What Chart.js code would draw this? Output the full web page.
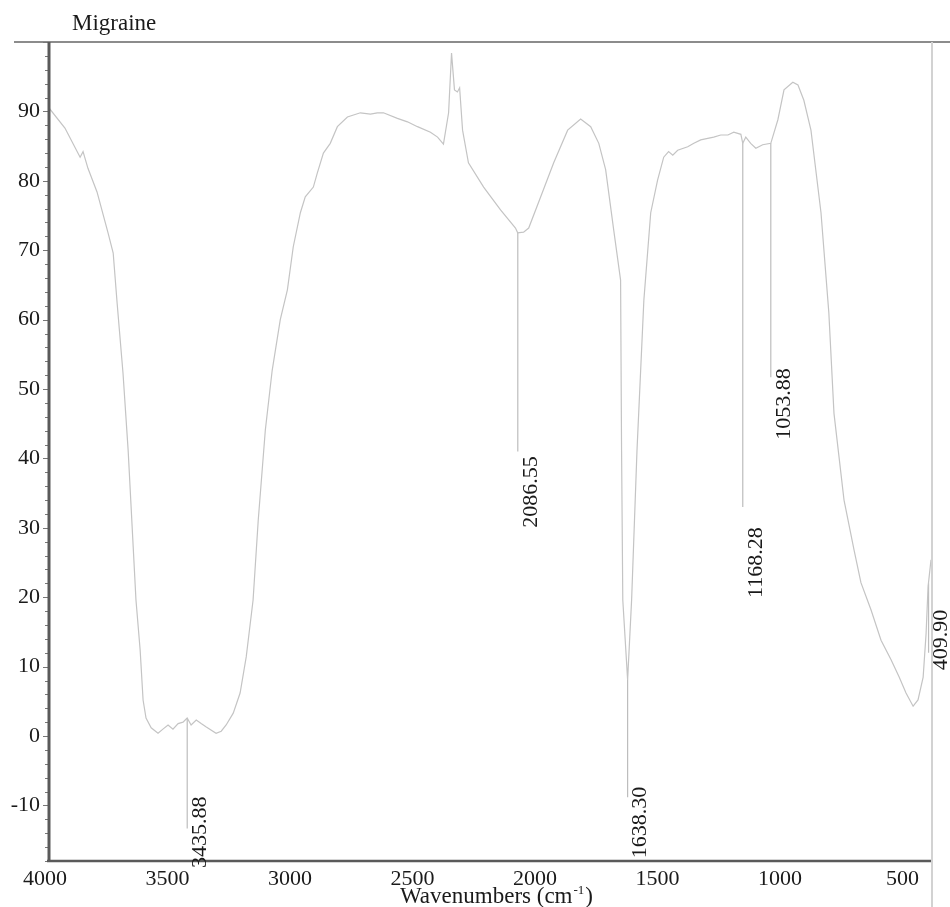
<!DOCTYPE html>
<html>
<head>
<meta charset="utf-8">
<title>Migraine</title>
<script src="https://cdn.jsdelivr.net/npm/chart.js@4.4.0/dist/chart.umd.min.js"></script>
<style>
  html, body { margin: 0; padding: 0; background: #fff; }
  #wrap { width: 950px; height: 907px; }
</style>
</head>
<body>
<div id="wrap"><canvas id="chartIR" width="950" height="907"></canvas></div>
<script>
// spectrum (wavenumber in cm-1, transmittance)
const wavenumbers = [
  4000, 3935, 3873, 3861, 3841, 3804, 3759, 3738, 3722, 3698, 3677,
  3645, 3628, 3616, 3604, 3583, 3555, 3535, 3514, 3494, 3473, 3453, 3436, 3420, 3399, 3379, 3358, 3318, 3297, 3277, 3248, 3220, 3195, 3167,
  3146, 3117, 3089, 3056, 3027, 3003, 2974, 2954, 2921, 2905, 2880, 2852, 2823, 2782, 2729, 2688, 2660, 2635, 2578, 2537, 2496, 2443, 2414, 2390,
  2369, 2357, 2345, 2333, 2324, 2312, 2288, 2226, 2157, 2096, 2087, 2063, 2042, 1993, 1940, 1883, 1830, 1789, 1756, 1728, 1695, 1667,
  1663, 1658, 1638.3, 1622, 1600, 1572, 1544, 1516, 1491, 1471, 1454, 1434, 1393, 1368, 1340, 1287, 1258, 1229, 1205, 1176,
  1168.28, 1156, 1136, 1115, 1087, 1053.88, 1025, 1000, 964, 943, 919, 890, 849, 817, 796, 755, 714, 686, 645, 604, 563, 530, 502,
  473, 453, 432, 420, 412, 400
];
const transmittance = [
  90.5, 87.6, 83.4, 84.2, 81.8, 78.4, 72.5, 69.6, 62.4, 52.3, 41.2,
  19.6, 12.4, 5.2, 2.6, 1.2, 0.4, 1.0, 1.6, 1.0, 1.8, 2.0, 2.6, 1.6, 2.3, 1.8, 1.3, 0.4, 0.7, 1.6, 3.3, 6.2, 11.4, 19.6,
  31.1, 44.1, 52.7, 60.0, 64.3, 70.5, 75.4, 77.7, 79.1, 81.1, 84.0, 85.4, 87.8, 89.2, 89.8, 89.6, 89.8, 89.8, 89.0, 88.5, 87.8, 87.0, 86.3, 85.3,
  89.8, 98.4, 93.1, 92.8, 93.4, 87.3, 82.6, 79.1, 75.8, 73.2, 72.5, 72.6, 73.2, 77.7, 82.6, 87.3, 88.9, 87.8, 85.4, 81.6, 72.9, 65.7,
  41.2, 19.6, 8.1, 19.6, 41.2, 62.8, 75.4, 80.1, 83.4, 84.2, 83.7, 84.4, 84.9, 85.4, 85.9, 86.3, 86.6, 86.6, 87.0, 86.7,
  85.4, 86.3, 85.4, 84.7, 85.2, 85.4, 88.8, 93.1, 94.2, 93.8, 91.6, 87.3, 75.4, 61.0, 46.5, 34.0, 26.8, 22.1, 18.2, 13.8, 11.0, 8.5, 6.2,
  4.3, 5.2, 8.5, 14.8, 21.5, 25.4
];

// labelled peaks: position, top of marker, bottom of marker, where the label text starts
const peakWave = [3435.88, 2086.55, 1638.30, 1168.28, 1053.88, 409.90];
const peakTop = [2.6, 72.5, 8.1, 85.4, 85.4, 22.0];
const peakEnd = [-13.3, 41.0, -8.8, 33.0, 51.7, 12.0];
const peakLabelAt = [-19.0, 30.0, -17.6, 19.9, 42.7, 9.5];

const xTicks = [4000, 3500, 3000, 2500, 2000, 1500, 1000, 500];
const yTicks = [-10, 0, 10, 20, 30, 40, 50, 60, 70, 80, 90];

const X_MIN = 400, X_MAX = 4000, Y_MIN = -18, Y_MAX = 100;
const FONT = '"Liberation Serif", "Times New Roman", serif';
const LINE_GRAY = '#c4c4c4';

const points = wavenumbers.map(function (w, i) { return { x: w, y: transmittance[i] }; });

const markerSets = peakWave.map(function (w, i) {
  return {
    data: [{ x: w, y: peakTop[i] }, { x: w, y: peakEnd[i] }],
    borderColor: '#bdbdbd',
    borderWidth: 1.2,
    pointRadius: 0,
    clip: false,
  };
});

const frame = {
  id: 'frame',
  afterDraw: function (chart) {
    const ctx = chart.ctx;
    const a = chart.chartArea;
    const xs = chart.scales.x;
    const ys = chart.scales.y;
    ctx.save();

    // top rule and right border
    ctx.strokeStyle = '#8c8c8c';
    ctx.lineWidth = 2;
    ctx.beginPath(); ctx.moveTo(14, a.top); ctx.lineTo(950, a.top); ctx.stroke();
    ctx.strokeStyle = '#d2d2d2';
    ctx.beginPath(); ctx.moveTo(a.right + 1, a.top); ctx.lineTo(a.right + 1, 907); ctx.stroke();

    // y ticks, minor every 2
    ctx.strokeStyle = '#777';
    ctx.lineWidth = 1;
    for (let v = Y_MIN; v <= Y_MAX; v += 2) {
      const py = Math.round(ys.getPixelForValue(v)) + 0.5;
      const len = v % 10 === 0 ? 6 : 4;
      ctx.beginPath(); ctx.moveTo(a.left - len, py); ctx.lineTo(a.left, py); ctx.stroke();
    }

    // axes
    ctx.strokeStyle = '#5a5a5a';
    ctx.lineWidth = 3;
    ctx.beginPath(); ctx.moveTo(a.left, a.top); ctx.lineTo(a.left, a.bottom); ctx.stroke();
    ctx.lineWidth = 2.5;
    ctx.beginPath(); ctx.moveTo(a.left - 2, a.bottom); ctx.lineTo(a.right, a.bottom); ctx.stroke();

    ctx.fillStyle = '#1a1a1a';
    ctx.font = '22px ' + FONT;
    ctx.textAlign = 'right';
    ctx.textBaseline = 'middle';
    yTicks.forEach(function (v) {
      ctx.fillText(String(v), 40, ys.getPixelForValue(v));
    });

    ctx.textAlign = 'center';
    ctx.textBaseline = 'alphabetic';
    xTicks.forEach(function (v) {
      ctx.fillText(String(v), xs.getPixelForValue(v) - 4, a.bottom + 24);
    });

    // axis title with superscript
    ctx.textAlign = 'left';
    ctx.font = '23px ' + FONT;
    const main = 'Wavenumbers (cm';
    let tx = 400;
    ctx.fillText(main, tx, 903);
    tx += ctx.measureText(main).width + 1;
    ctx.font = '13px ' + FONT;
    ctx.fillText('-1', tx, 894);
    tx += ctx.measureText('-1').width + 1;
    ctx.font = '23px ' + FONT;
    ctx.fillText(')', tx, 903);

    // title
    ctx.font = '23px ' + FONT;
    ctx.fillText('Migraine', 72, 30);

    // peak labels, rotated
    ctx.font = '22px ' + FONT;
    ctx.textBaseline = 'top';
    peakWave.forEach(function (w, i) {
      ctx.save();
      ctx.translate(xs.getPixelForValue(w) + 2, ys.getPixelForValue(peakLabelAt[i]));
      ctx.rotate(-Math.PI / 2);
      ctx.fillText(w.toFixed(2), 0, 0);
      ctx.restore();
    });

    ctx.restore();
  },
};

new Chart(document.getElementById('chartIR'), {
  type: 'line',
  data: {
    datasets: [{
      data: points,
      borderColor: LINE_GRAY,
      borderWidth: 1.2,
      pointRadius: 0,
      tension: 0,
    }].concat(markerSets),
  },
  options: {
    responsive: false,
    animation: false,
    parsing: true,
    layout: { padding: { left: 49, top: 42, right: 19, bottom: 46 } },
    plugins: { legend: { display: false }, tooltip: { enabled: false } },
    scales: {
      x: { type: 'linear', reverse: true, min: X_MIN, max: X_MAX, display: false },
      y: { type: 'linear', min: Y_MIN, max: Y_MAX, display: false },
    },
  },
  plugins: [frame],
});
</script>
</body>
</html>
